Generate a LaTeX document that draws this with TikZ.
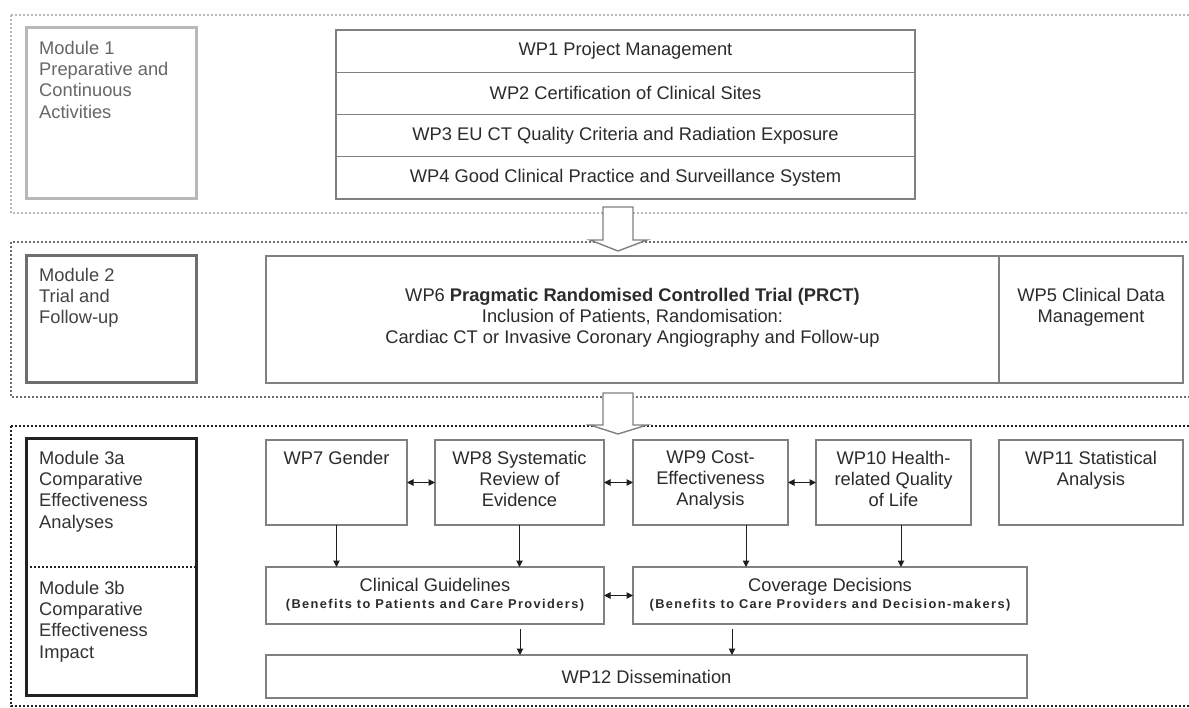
\documentclass[tikz,border=0pt]{standalone}
\usepackage{fontspec}
\setmainfont{Liberation Sans}
\newfontfamily\subfont[LetterSpace=11]{Liberation Sans}
\usetikzlibrary{arrows.meta}

\definecolor{boxline}{HTML}{808080}
\definecolor{txt}{HTML}{2B2B2B}
\definecolor{mone}{HTML}{B8B8B8}
\definecolor{monetxt}{HTML}{666666}
\definecolor{mtwo}{HTML}{6E6E6E}
\definecolor{mtwotxt}{HTML}{444444}
\definecolor{mthree}{HTML}{222222}
\definecolor{mthreetxt}{HTML}{333333}
\definecolor{arrowink}{HTML}{1E1E1E}

\begin{document}
\begin{tikzpicture}[x=1pt,y=-1pt,
  box/.style={draw=boxline, line width=1.4pt, fill=white, rectangle,
    inner sep=0pt, outer sep=0pt},
  modbox/.style={rectangle, line width=3pt, inner sep=0pt, outer sep=0pt},
  wptext/.style={inner sep=0pt, align=center, text=txt,
    font=\fontsize{18.3}{20.8}\selectfont},
  modtext/.style={inner sep=0pt, align=left, anchor=north west,
    font=\fontsize{18.3}{21.4}\selectfont},
  subtext/.style={inner sep=0pt, text=txt,
    font=\subfont\bfseries\fontsize{12.8}{14}\selectfont},
  frameone/.style={draw=mone, line width=2pt, dash pattern=on 2pt off 2pt},
  frametwo/.style={draw=mtwo, line width=2pt, dash pattern=on 2pt off 2pt},
  framethree/.style={draw=mthree, line width=2.2pt, dash pattern=on 2.2pt off 1.8pt},
  blockarrow/.style={draw=boxline, line width=1.4pt, fill=white, line join=miter},
  both/.style={arrowink, line width=1pt,
    {Triangle[length=6.5pt,width=6.5pt]}-{Triangle[length=6.5pt,width=6.5pt]}},
  down/.style={arrowink, line width=1pt, -{Triangle[length=6.5pt,width=6.5pt]}}
]
\useasboundingbox (0,0) rectangle (1189,708);
\clip (0,0) rectangle (1189,708);
\fill[white] (0,0) rectangle (1189,708);

% module frames
\draw[frameone] (11,15) rectangle (1200,213);
\draw[frametwo] (11,242) rectangle (1200,397);
\draw[framethree] (11,426) rectangle (1200,706);

% module label boxes
\node[modbox, draw=mone, minimum width=170pt, minimum height=171pt] (m1) at (111,113.5) {};
\node[modbox, draw=mtwo, minimum width=170pt, minimum height=127pt] (m2) at (111,319.5) {};
\node[modbox, draw=mthree, minimum width=170pt, minimum height=256pt] (m3) at (111,567) {};
\draw[mthree, line width=2.2pt, dash pattern=on 2.2pt off 1.8pt] (m3.west) -- (m3.east);

\node[modtext, text=monetxt] (m1t) at ([xshift=13pt,yshift=-12.6pt]m1.north west)
  {Module 1\\Preparative and\\Continuous\\Activities};
\node[modtext, text=mtwotxt] (m2t) at ([xshift=13pt,yshift=-11.6pt]m2.north west)
  {Module 2\\Trial and\\Follow-up};
\node[modtext, text=mthreetxt] (m3at) at ([xshift=13pt,yshift=-11.6pt]m3.north west)
  {Module 3a\\Comparative\\Effectiveness\\Analyses};
\node[modtext, text=mthreetxt] (m3bt) at ([xshift=13pt,yshift=-13.6pt]m3.west)
  {Module 3b\\Comparative\\Effectiveness\\Impact};

% module 1 work packages
\node[box, minimum width=579pt, minimum height=42.25pt] (wp1) at (625.5,51.125) {};
\node[box, minimum width=579pt, minimum height=42.25pt] (wp2) at (625.5,93.375) {};
\node[box, minimum width=579pt, minimum height=42.25pt] (wp3) at (625.5,135.625) {};
\node[box, minimum width=579pt, minimum height=42.25pt] (wp4) at (625.5,177.875) {};
\node[wptext] at (wp1) {WP1 Project Management};
\node[wptext] at (wp2) {WP2 Certification of Clinical Sites};
\node[wptext] at (wp3) {WP3 EU CT Quality Criteria and Radiation Exposure};
\node[wptext] at (wp4) {WP4 Good Clinical Practice and Surveillance System};

% module 2 work packages
\node[box, minimum width=733pt, minimum height=127pt] (wp6) at (632.5,319.5) {};
\node[box, minimum width=184pt, minimum height=127pt] (wp5) at (1091,319.5) {};
\node[wptext, anchor=north] at ([yshift=-32pt]wp6.north)
  {WP6 \textbf{Pragmatic Randomised Controlled Trial (PRCT)}\\
   Inclusion of Patients, Randomisation:\\
   Cardiac CT or Invasive Coronary Angiography and Follow-up};
\node[wptext, anchor=north] at ([yshift=-32pt]wp5.north)
  {WP5 Clinical Data\\Management};

% module 3a work packages
\node[box, minimum width=141pt, minimum height=85pt] (wp7) at (336.5,482.5) {};
\node[box, minimum width=169pt, minimum height=85pt] (wp8) at (519.5,482.5) {};
\node[box, minimum width=155pt, minimum height=85pt] (wp9) at (710.5,482.5) {};
\node[box, minimum width=155pt, minimum height=85pt] (wp10) at (893.5,482.5) {};
\node[box, minimum width=184pt, minimum height=85pt] (wp11) at (1091,482.5) {};
\node[wptext, anchor=north] at ([yshift=-11pt]wp7.north) {WP7 Gender};
\node[wptext, anchor=north] at ([yshift=-11pt]wp8.north) {WP8 Systematic\\Review of\\Evidence};
\node[wptext, anchor=north] at ([yshift=-11pt]wp9.north) {WP9 Cost-\\Effectiveness\\Analysis};
\node[wptext, anchor=north] at ([yshift=-11pt]wp10.north) {WP10 Health-\\related Quality\\of Life};
\node[wptext, anchor=north] at ([yshift=-11pt]wp11.north) {WP11 Statistical\\Analysis};

% module 3b outcomes
\node[box, minimum width=338pt, minimum height=57pt] (cg) at (435,595.5) {};
\node[box, minimum width=394pt, minimum height=57pt] (cd) at (830,595.5) {};
\node[box, minimum width=761pt, minimum height=43pt] (wp12) at (646.5,676.5) {};
\node[wptext, anchor=base] at ([yshift=-24.1pt]cg.north) {Clinical Guidelines};
\node[subtext, anchor=base] at ([yshift=-41.5pt]cg.north) {(Benefits to Patients and Care Providers)};
\node[wptext, anchor=base] at ([yshift=-24.1pt]cd.north) {Coverage Decisions};
\node[subtext, anchor=base] at ([yshift=-41.5pt]cd.north) {(Benefits to Care Providers and Decision-makers)};
\node[wptext] at (wp12) {WP12 Dissemination};

% links between modules
\draw[blockarrow] (603,207) -- (633,207) -- (633,240) -- (647,240) -- (618,251)
  -- (590,240) -- (603,240) -- cycle;
\draw[blockarrow] (603,393) -- (633,393) -- (633,425) -- (647,425) -- (618,434)
  -- (590,425) -- (603,425) -- cycle;

% interactions between analyses
\draw[both] (wp7.east) -- (wp8.west);
\draw[both] (wp8.east) -- (wp9.west);
\draw[both] (wp9.east) -- (wp10.west);
\draw[both] (cg.east) -- (cd.west);

% flow into outcomes and dissemination
\draw[down] (wp7.south) -- (wp7.south |- cg.north);
\draw[down] (wp8.south) -- (wp8.south |- cg.north);
\draw[down] ([xshift=35.5pt]wp9.south) -- ([xshift=35.5pt]wp9.south |- cd.north);
\draw[down] ([xshift=7.5pt]wp10.south) -- ([xshift=7.5pt]wp10.south |- cd.north);
\draw[down] ([xshift=85pt,yshift=-5pt]cg.south) -- ([xshift=85pt]cg.south |- wp12.north);
\draw[down] ([xshift=-98pt,yshift=-5pt]cd.south) -- ([xshift=-98pt]cd.south |- wp12.north);
\end{tikzpicture}
\end{document}
